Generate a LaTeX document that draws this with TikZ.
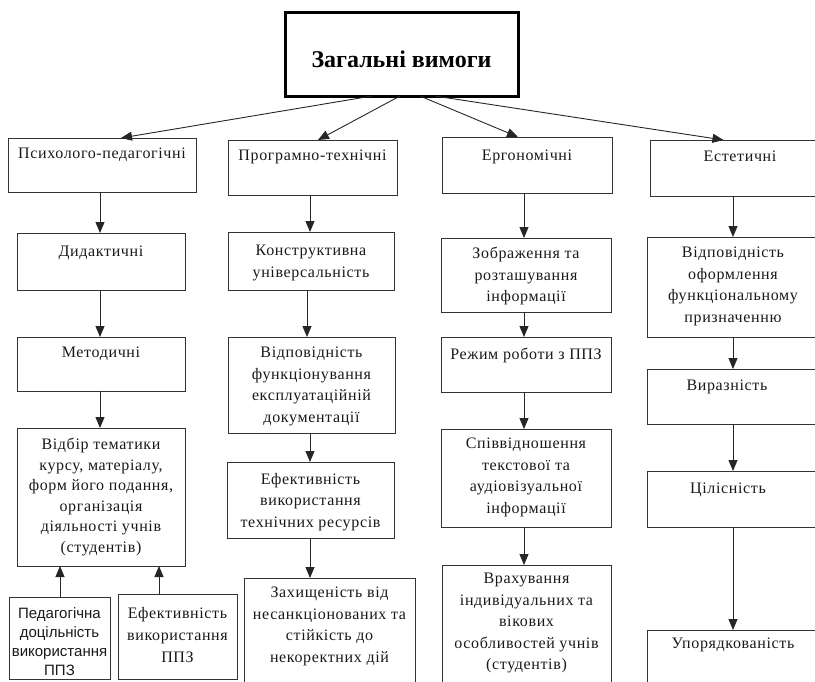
\documentclass[tikz,border=0pt]{standalone}
\usepackage{fontspec}
\setmainfont{Liberation Serif}
\newfontfamily\serifsp[LetterSpace=4]{Liberation Serif}
\newfontfamily\sansf{Liberation Sans}
\usetikzlibrary{arrows.meta}

\tikzset{
  frame/.style={draw=black!80, line width=0.9pt, inner sep=0pt, outer sep=0pt, anchor=north west},
  lbl/.style={inner sep=0pt, anchor=north, align=center, text=black!90,
    font=\serifsp\fontsize{16}{21.5}\selectfont},
  sanslbl/.style={lbl, font=\sansf\fontsize{15}{19}\selectfont},
  link/.style={draw=black!85, line width=0.9pt, -{Triangle[length=11pt,width=9pt]}},
}

% box: name, x1, y1, x2, y2 (y grows downwards)
\newcommand\mkbox[5]{%
  \node[frame, minimum width={(#4-#2)*1pt}, minimum height={(#5-#3)*1pt}] (#1) at (#2,#3) {};}

\begin{document}
\begin{tikzpicture}[x=1pt, y=-1pt]
\useasboundingbox (0,0) rectangle (815,681);

% column axes
\coordinate (colA) at (100,0);
\coordinate (colB) at (310,0);
\coordinate (colBb) at (307,0);
\coordinate (colC) at (524,0);
\coordinate (colD) at (733,0);
\coordinate (subL) at (60,0);
\coordinate (subR) at (159,0);

% root
\node[frame, draw=black, line width=3pt, minimum width=233pt, minimum height=84pt] (T) at (285,12) {};
\node[inner sep=0pt, anchor=base, font=\bfseries\fontsize{24}{28}\selectfont] (Tt) at (401.5,67) {Загальні вимоги};

% psychological-pedagogical branch
\mkbox{A1}{8}{138}{196}{192}
\mkbox{A2}{17}{233}{185}{290}
\mkbox{A3}{17}{337}{185}{391}
\mkbox{A4}{17}{428}{185}{566}
\mkbox{A5}{9}{597}{110}{679.5}
\mkbox{A6}{118}{594}{237}{679.5}
\node[lbl] (A1t) at ([yshift=-10pt]A1.north) {Психолого-педагогічні};
\node[lbl] (A2t) at ([yshift=-13pt]A2.north) {Дидактичні};
\node[lbl] (A3t) at ([yshift=-10pt]A3.north) {Методичні};
\node[lbl, font=\serifsp\fontsize{16}{20.5}\selectfont] (A4t) at ([yshift=-10pt]A4.north)
  {Відбір тематики\\курсу, матеріалу,\\форм його подання,\\організація\\діяльності учнів\\(студентів)};
\node[sanslbl] (A5t) at ([yshift=-10pt]A5.north) {Педагогічна\\доцільність\\використання\\ППЗ};
\node[lbl, font=\serifsp\fontsize{16}{22}\selectfont] (A6t) at ([yshift=-13pt]A6.north) {Ефективність\\використання\\ППЗ};

% software-technical branch
\mkbox{B1}{228}{140}{397}{195}
\mkbox{B2}{228}{232}{394}{290}
\mkbox{B3}{228}{337}{395}{433}
\mkbox{B4}{227}{462}{394}{538}
\mkbox{B5}{244}{578}{415}{700}
\node[lbl] (B1t) at ([yshift=-10pt]B1.north) {Програмно-технічні};
\node[lbl] (B2t) at ([yshift=-13pt]B2.north) {Конструктивна\\універсальність};
\node[lbl] (B3t) at ([yshift=-10pt]B3.north) {Відповідність\\функціонування\\експлуатаційній\\документації};
\node[lbl] (B4t) at ([yshift=-11pt]B4.north) {Ефективність\\використання\\технічних ресурсів};
\node[lbl] (B5t) at ([yshift=-9pt]B5.north) {Захищеність від\\несанкціонованих та\\стійкість до\\некоректних дій};

% ergonomic branch
\mkbox{C1}{442}{137}{612}{193}
\mkbox{C2}{441}{238}{611}{312}
\mkbox{C3}{441}{337}{611}{392}
\mkbox{C4}{441}{429}{611}{527}
\mkbox{C5}{442}{565}{611}{700}
\node[lbl] (C1t) at ([yshift=-13pt]C1.north) {Ергономічні};
\node[lbl] (C2t) at ([yshift=-9pt]C2.north) {Зображення та\\розташування\\інформації};
\node[lbl] (C3t) at ([yshift=-11pt]C3.north) {Режим роботи з ППЗ};
\node[lbl] (C4t) at ([yshift=-9pt]C4.north) {Співвідношення\\текстової та\\аудіовізуальної\\інформації};
\node[lbl] (C5t) at ([yshift=-8pt]C5.north) {Врахування\\індивідуальних та\\вікових\\особливостей учнів\\(студентів)};

% aesthetic branch
\mkbox{D1}{650}{140}{825}{196}
\mkbox{D2}{647}{237}{825}{337}
\mkbox{D3}{647}{369}{825}{424}
\mkbox{D4}{647}{471}{825}{527}
\mkbox{D5}{647}{630}{825}{700}
\node[lbl] (D1t) at ([yshift=-11pt]D1.north -| 740,0) {Естетичні};
\node[lbl] (D2t) at ([yshift=-10pt]D2.north -| colD) {Відповідність\\оформлення\\функціональному\\призначенню};
\node[lbl] (D3t) at ([yshift=-11pt]D3.north -| 727,0) {Виразність};
\node[lbl] (D4t) at ([yshift=-12pt]D4.north -| 728,0) {Цілісність};
\node[lbl] (D5t) at ([yshift=-8pt]D5.north -| colD) {Упорядкованість};

% root to the four groups
\draw[link] ([xshift=-29.5pt]T.south) -- ([xshift=19pt]A1.north);
\draw[link] ([xshift=-1.5pt]T.south) -- ([xshift=5.5pt]B1.north);
\draw[link] ([xshift=18.5pt]T.south) -- ([xshift=-9pt]C1.north);
\draw[link] ([xshift=33.5pt]T.south) -- ([xshift=-14pt]D1.north);

% vertical chains
\draw[link] (A1.south -| colA) -- (A2.north -| colA);
\draw[link] (A2.south -| colA) -- (A3.north -| colA);
\draw[link] (A3.south -| colA) -- (A4.north -| colA);
\draw[link] (A5.north -| subL) -- (A4.south -| subL);
\draw[link] (A6.north -| subR) -- (A4.south -| subR);

\draw[link] (B1.south -| colB) -- (B2.north -| colB);
\draw[link] (B2.south -| colBb) -- (B3.north -| colBb);
\draw[link] (B3.south -| colB) -- (B4.north -| colB);
\draw[link] (B4.south -| colB) -- (B5.north -| colB);

\draw[link] (C1.south -| colC) -- (C2.north -| colC);
\draw[link] (C2.south -| colC) -- (C3.north -| colC);
\draw[link] (C3.south -| colC) -- (C4.north -| colC);
\draw[link] (C4.south -| colC) -- (C5.north -| colC);

\draw[link] (D1.south -| colD) -- (D2.north -| colD);
\draw[link] (D2.south -| colD) -- (D3.north -| colD);
\draw[link] (D3.south -| colD) -- (D4.north -| colD);
\draw[link] (D4.south -| colD) -- (D5.north -| colD);
\end{tikzpicture}
\end{document}
